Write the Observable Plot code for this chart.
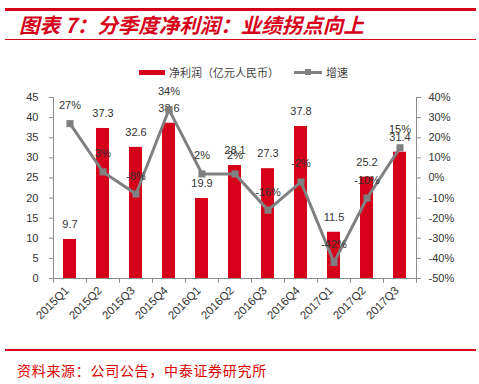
<!DOCTYPE html>
<html><head><meta charset="utf-8">
<script src="https://cdn.jsdelivr.net/npm/d3@7"></script>
<script src="https://cdn.jsdelivr.net/npm/@observablehq/plot@0.6"></script>
<style>
body{margin:0;width:479px;height:384px;position:relative;background:#fff;font-family:"Liberation Sans",Arial,"Noto Sans CJK SC",sans-serif;overflow:hidden}
.hr{position:absolute;left:5px;width:471px;background:#d7001b}
#title{position:absolute;left:19px;top:11px;font-family:"Noto Sans CJK SC",sans-serif;font-weight:bold;font-style:italic;font-size:20.5px;color:#d7001b;line-height:26px;white-space:nowrap}
#legend{position:absolute;top:64px;left:0;width:479px;font-family:"Noto Sans CJK SC",sans-serif;font-size:11px;color:#404040;line-height:16px}
#legend .sw{position:absolute}
#chart{position:absolute;left:0;top:78px}
#chart svg text{font-family:"Liberation Sans",Arial,sans-serif}
#source{position:absolute;left:17px;top:360px;font-family:"Noto Sans CJK SC",sans-serif;font-size:14px;color:#e00000;letter-spacing:0.7px;white-space:nowrap;line-height:20px}
</style></head>
<body>
<div class="hr" style="top:8px;height:3px"></div>
<div id="title">图表 7：分季度净利润：业绩拐点向上</div>
<div class="hr" style="top:39px;height:1px"></div>
<div id="legend"></div>
<div id="chart"></div>
<div class="hr" style="top:349px;height:2px"></div>
<div id="source">资料来源：公司公告，中泰证券研究所</div>
<script>
const quarters = ["2015Q1","2015Q2","2015Q3","2015Q4","2016Q1","2016Q2","2016Q3","2016Q4","2017Q1","2017Q2","2017Q3"];
const profit = [9.7, 37.3, 32.6, 38.6, 19.9, 28.1, 27.3, 37.8, 11.5, 25.2, 31.4];
const growth = [27, 3, -8, 34, 2, 2, -16, -2, -42, -10, 15];
const leftTicks = [0, 5, 10, 15, 20, 25, 30, 35, 40, 45];
const growthTicks = [-50, -40, -30, -20, -10, 0, 10, 20, 30, 40];
const seriesNames = ["净利润（亿元人民币）", "增速"];

const RED = "#d7001b", GRAY = "#808080", TXT = "#333333", AX = "#8c8c8c";
const FF = '"Liberation Sans", Arial, sans-serif';
// map growth (%) onto left scale: -50..40 -> 0..45
const gMin = growthTicks[0], gMax = growthTicks[growthTicks.length-1];
const lMax = leftTicks[leftTicks.length-1];
const toLeft = g => (g - gMin) / (gMax - gMin) * lMax;

const data = quarters.map((q,i)=>({q, p: profit[i], g: growth[i], gy: toLeft(growth[i])}));

// legend
const lg = document.getElementById("legend");
lg.innerHTML = `
<div class="sw" style="left:139px;top:6px;width:26px;height:5px;background:${RED}"></div>
<div class="sw" style="left:169px;top:0px">${seriesNames[0]}</div>
<div class="sw" style="left:294px;top:7px;width:28px;height:3px;background:${GRAY}"></div>
<div class="sw" style="left:305px;top:5px;width:6px;height:6px;background:${GRAY}"></div>
<div class="sw" style="left:326px;top:0px">${seriesNames[1]}</div>`;

const W = 479, ML = 53, MR = 63;
const step = (W - ML - MR) / quarters.length;

const chart = Plot.plot({
  width: W, height: 262,
  marginLeft: ML, marginRight: MR, marginTop: 19, marginBottom: 62,
  style: {fontFamily: FF, fontSize: "11px", color: TXT, overflow: "visible"},
  x: {domain: quarters, paddingInner: 0.6, paddingOuter: 0.3, axis: null},
  y: {domain: [0, lMax], axis: null},
  marks: [
    Plot.barY(data, {x: "q", y: "p", fill: RED}),
    Plot.ruleY([0], {stroke: AX}),
    Plot.ruleX([quarters[0]], {y1: 0, y2: lMax, dx: -step/2, stroke: AX}),
    Plot.ruleX([quarters[quarters.length-1]], {y1: 0, y2: lMax, dx: step/2, stroke: AX}),
    Plot.ruleX(quarters, {y1: 0, y2: -1.2, dx: -step/2, stroke: AX}),
    Plot.ruleX([quarters[quarters.length-1]], {y1: 0, y2: -1.2, dx: step/2, stroke: AX}),
    Plot.axisX({tickSize: 0, tickPadding: 10, tickRotate: -45, fill: TXT, fontSize: 11.5, fontFamily: FF, dx: -3, label: null}),
    Plot.axisY(leftTicks, {anchor: "left", tickSize: 4, tickPadding: 11, stroke: AX, fill: TXT, fontSize: 11, fontFamily: FF, label: null}),
    Plot.axisY(leftTicks, {anchor: "right", tickSize: 4, tickPadding: 8, stroke: AX, fill: TXT, fontSize: 11, fontFamily: FF, label: null,
      tickFormat: d => growthTicks[leftTicks.indexOf(d)] + "%"}),
    Plot.text(data, {x: "q", y: "p", text: d => d.p.toFixed(1), dy: -15, fill: TXT, fontSize: 11, fontFamily: FF}),
    Plot.line(data, {x: "q", y: "gy", stroke: GRAY, strokeWidth: 3}),
    Plot.dot(data, {x: "q", y: "gy", symbol: "square", r: 4, fill: GRAY}),
    Plot.text(data, {x: "q", y: "gy", text: d => d.g + "%", dy: -18, fill: TXT, fontSize: 11, fontFamily: FF})
  ]
});
document.getElementById("chart").appendChild(chart);
</script>
</body></html>
